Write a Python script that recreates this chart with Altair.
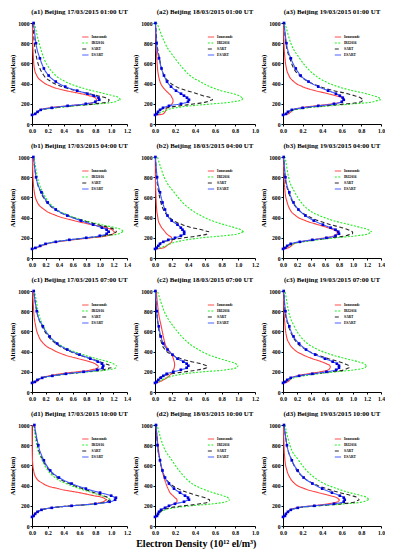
import altair as alt
import pandas as pd

ALT = [90, 100, 120, 140, 160, 180, 200, 220, 240, 260, 280, 300, 330, 370, 420, 480, 550, 650, 800, 1000]
SERIES = ["Ionosonde", "IRI2016", "SART", "ESART"]
COLORS = ["#ff4040", "#22ee22", "#262626", "#3a55ff"]
DASHES = [[1, 0], [2, 1.5], [4, 2.5], [1, 0]]
ALT_TICKS = [0, 200, 400, 600, 800, 1000]
TICKS_10 = [0.0, 0.2, 0.4, 0.6, 0.8, 1.0]
TICKS_12 = [0.0, 0.2, 0.4, 0.6, 0.8, 1.0, 1.2]
TICKS_14 = [0.0, 0.2, 0.4, 0.6, 0.8, 1.0, 1.2, 1.4]
COL_WIDTHS = [95, 100, 98]
PANEL_H = 101

TITLES = [
    "(a1) Beijing 17/03/2015  01:00 UT", "(a2) Beijing 18/03/2015  01:00 UT", "(a3) Beijing 19/03/2015  01:00 UT",
    "(b1) Beijing 17/03/2015  04:00 UT", "(b2) Beijing 18/03/2015  04:00 UT", "(b3) Beijing 19/03/2015  04:00 UT",
    "(c1) Beijing 17/03/2015  07:00 UT", "(c2) Beijing 18/03/2015  07:00 UT", "(c3) Beijing 19/03/2015  07:00 UT",
    "(d1) Beijing 17/03/2015  10:00 UT", "(d2) Beijing 18/03/2015  10:00 UT", "(d3) Beijing 19/03/2015  10:00 UT",
]
XTICKS = [TICKS_12, TICKS_10, TICKS_10,
          TICKS_14, TICKS_12, TICKS_14,
          TICKS_14, TICKS_12, TICKS_14,
          TICKS_12, TICKS_10, TICKS_10]

a1_iono = [0.0, 0.04, 0.07, 0.1, 0.22, 0.45, 0.68, 0.8, 0.82, 0.8, 0.72, 0.62, 0.43, 0.25, 0.13, 0.06, 0.03, 0.018, 0.01, 0.005]
a1_iri = [0.0, 0.03, 0.06, 0.12, 0.3, 0.56, 0.85, 1.05, 1.12, 1.1, 1.02, 0.92, 0.76, 0.58, 0.42, 0.3, 0.22, 0.15, 0.09, 0.03]
a1_sart = [0.0, 0.04, 0.07, 0.12, 0.28, 0.52, 0.8, 0.96, 0.98, 0.93, 0.83, 0.72, 0.56, 0.38, 0.24, 0.15, 0.1, 0.06, 0.03, 0.01]
a1_esart = [0.0, 0.04, 0.07, 0.11, 0.25, 0.45, 0.68, 0.8, 0.85, 0.84, 0.78, 0.7, 0.57, 0.42, 0.3, 0.21, 0.15, 0.1, 0.05, 0.02]

a2_iono = [0.02, 0.08, 0.1, 0.11, 0.12, 0.15, 0.17, 0.18, 0.18, 0.17, 0.16, 0.14, 0.11, 0.075, 0.05, 0.035, 0.025, 0.018, 0.01, 0.005]
a2_iri = [0.01, 0.03, 0.07, 0.12, 0.2, 0.36, 0.58, 0.78, 0.87, 0.88, 0.84, 0.78, 0.66, 0.55, 0.45, 0.35, 0.28, 0.2, 0.1, 0.02]
a2_sart = [0.0, 0.02, 0.03, 0.05, 0.12, 0.25, 0.4, 0.52, 0.58, 0.56, 0.48, 0.42, 0.32, 0.21, 0.14, 0.09, 0.065, 0.045, 0.02, 0.005]
a2_esart = [0.0, 0.02, 0.03, 0.05, 0.08, 0.14, 0.26, 0.33, 0.34, 0.32, 0.29, 0.26, 0.21, 0.16, 0.12, 0.09, 0.065, 0.04, 0.015, 0.005]

a3_iono = [0.0, 0.05, 0.08, 0.1, 0.18, 0.33, 0.5, 0.6, 0.62, 0.6, 0.54, 0.46, 0.33, 0.2, 0.11, 0.06, 0.035, 0.02, 0.01, 0.005]
a3_iri = [0.0, 0.03, 0.06, 0.12, 0.25, 0.48, 0.72, 0.92, 1.0, 0.98, 0.92, 0.85, 0.71, 0.56, 0.43, 0.33, 0.25, 0.17, 0.08, 0.02]
a3_sart = [0.0, 0.03, 0.05, 0.1, 0.22, 0.42, 0.65, 0.8, 0.82, 0.79, 0.73, 0.66, 0.52, 0.38, 0.26, 0.17, 0.11, 0.07, 0.03, 0.01]
a3_esart = [0.0, 0.03, 0.05, 0.09, 0.2, 0.36, 0.52, 0.6, 0.62, 0.61, 0.58, 0.54, 0.46, 0.36, 0.26, 0.18, 0.13, 0.08, 0.035, 0.01]

b1_iono = [0.01, 0.06, 0.14, 0.22, 0.38, 0.6, 0.87, 1.1, 1.2, 1.22, 1.18, 1.08, 0.88, 0.62, 0.36, 0.18, 0.08, 0.035, 0.015, 0.005]
b1_iri = [0.0, 0.05, 0.12, 0.2, 0.35, 0.56, 0.82, 1.08, 1.28, 1.35, 1.32, 1.22, 1.02, 0.78, 0.55, 0.37, 0.25, 0.16, 0.08, 0.03]
b1_sart = [0.0, 0.05, 0.12, 0.2, 0.35, 0.56, 0.82, 1.05, 1.2, 1.25, 1.22, 1.14, 0.97, 0.75, 0.52, 0.34, 0.22, 0.13, 0.06, 0.02]
b1_esart = [0.0, 0.05, 0.12, 0.2, 0.35, 0.55, 0.8, 1.0, 1.1, 1.13, 1.1, 1.03, 0.9, 0.72, 0.52, 0.35, 0.23, 0.14, 0.06, 0.02]

b2_iono = [0.01, 0.1, 0.14, 0.17, 0.2, 0.21, 0.2, 0.17, 0.14, 0.12, 0.1, 0.08, 0.06, 0.04, 0.03, 0.02, 0.015, 0.01, 0.005, 0.003]
b2_iri = [0.01, 0.06, 0.12, 0.18, 0.26, 0.38, 0.56, 0.82, 1.0, 1.07, 1.03, 0.96, 0.83, 0.68, 0.55, 0.43, 0.33, 0.23, 0.11, 0.03]
b2_sart = [0.0, 0.02, 0.03, 0.05, 0.1, 0.2, 0.35, 0.52, 0.63, 0.65, 0.56, 0.44, 0.33, 0.22, 0.15, 0.1, 0.07, 0.045, 0.02, 0.005]
b2_esart = [0.0, 0.02, 0.04, 0.06, 0.1, 0.16, 0.24, 0.31, 0.35, 0.35, 0.33, 0.31, 0.27, 0.2, 0.15, 0.12, 0.09, 0.06, 0.025, 0.005]

b3_iono = [0.01, 0.07, 0.12, 0.15, 0.25, 0.42, 0.6, 0.73, 0.78, 0.77, 0.72, 0.64, 0.5, 0.32, 0.18, 0.1, 0.06, 0.03, 0.015, 0.005]
b3_iri = [0.0, 0.04, 0.08, 0.15, 0.3, 0.5, 0.76, 1.05, 1.22, 1.27, 1.22, 1.12, 0.95, 0.72, 0.52, 0.36, 0.26, 0.17, 0.08, 0.03]
b3_sart = [0.0, 0.03, 0.06, 0.12, 0.26, 0.45, 0.68, 0.9, 1.0, 0.99, 0.93, 0.84, 0.68, 0.5, 0.34, 0.22, 0.14, 0.08, 0.03, 0.01]
b3_esart = [0.0, 0.03, 0.06, 0.11, 0.24, 0.42, 0.62, 0.75, 0.8, 0.79, 0.75, 0.68, 0.57, 0.44, 0.32, 0.22, 0.15, 0.09, 0.035, 0.01]

c1_iono = [0.01, 0.06, 0.1, 0.14, 0.25, 0.42, 0.66, 0.88, 0.97, 0.98, 0.93, 0.85, 0.68, 0.47, 0.3, 0.17, 0.1, 0.055, 0.025, 0.01]
c1_iri = [0.0, 0.04, 0.08, 0.16, 0.32, 0.55, 0.85, 1.12, 1.24, 1.25, 1.2, 1.12, 0.95, 0.75, 0.55, 0.38, 0.26, 0.17, 0.09, 0.04]
c1_sart = [0.0, 0.04, 0.08, 0.15, 0.3, 0.52, 0.8, 1.05, 1.17, 1.15, 1.08, 1.0, 0.86, 0.68, 0.5, 0.35, 0.24, 0.15, 0.07, 0.025]
c1_esart = [0.0, 0.04, 0.08, 0.15, 0.3, 0.5, 0.76, 0.96, 1.04, 1.05, 1.03, 0.97, 0.86, 0.7, 0.52, 0.37, 0.26, 0.16, 0.07, 0.025]

c2_iono = [0.01, 0.05, 0.1, 0.14, 0.17, 0.19, 0.21, 0.22, 0.23, 0.235, 0.235, 0.23, 0.22, 0.2, 0.16, 0.12, 0.1, 0.075, 0.04, 0.015]
c2_iri = [0.01, 0.04, 0.08, 0.14, 0.22, 0.35, 0.58, 0.85, 0.98, 1.0, 0.97, 0.9, 0.78, 0.64, 0.52, 0.41, 0.32, 0.22, 0.11, 0.03]
c2_sart = [0.0, 0.02, 0.03, 0.05, 0.1, 0.2, 0.36, 0.52, 0.62, 0.63, 0.55, 0.44, 0.31, 0.2, 0.12, 0.08, 0.06, 0.04, 0.02, 0.005]
c2_esart = [0.0, 0.02, 0.04, 0.07, 0.1, 0.14, 0.22, 0.31, 0.38, 0.4, 0.38, 0.34, 0.27, 0.21, 0.15, 0.1, 0.07, 0.045, 0.02, 0.005]

c3_iono = [0.01, 0.06, 0.1, 0.12, 0.2, 0.35, 0.53, 0.65, 0.68, 0.67, 0.62, 0.55, 0.42, 0.28, 0.16, 0.09, 0.05, 0.03, 0.015, 0.005]
c3_iri = [0.0, 0.04, 0.08, 0.15, 0.3, 0.5, 0.76, 1.02, 1.17, 1.2, 1.16, 1.07, 0.9, 0.69, 0.5, 0.35, 0.25, 0.16, 0.08, 0.03]
c3_sart = [0.0, 0.03, 0.06, 0.12, 0.25, 0.45, 0.68, 0.88, 0.95, 0.94, 0.88, 0.8, 0.65, 0.48, 0.33, 0.21, 0.14, 0.08, 0.03, 0.01]
c3_esart = [0.0, 0.03, 0.06, 0.11, 0.23, 0.42, 0.62, 0.76, 0.8, 0.8, 0.77, 0.71, 0.6, 0.46, 0.33, 0.23, 0.15, 0.09, 0.035, 0.01]

d1_iono = [0.0, 0.02, 0.03, 0.06, 0.12, 0.25, 0.5, 0.76, 0.9, 0.95, 0.9, 0.78, 0.6, 0.33, 0.14, 0.05, 0.02, 0.006, 0.003, 0.001]
d1_iri = [0.0, 0.02, 0.04, 0.07, 0.12, 0.25, 0.52, 0.82, 0.97, 1.0, 0.96, 0.88, 0.76, 0.6, 0.43, 0.29, 0.2, 0.13, 0.06, 0.02]
d1_sart = [0.0, 0.02, 0.04, 0.07, 0.12, 0.25, 0.5, 0.8, 0.95, 0.98, 0.96, 0.9, 0.79, 0.64, 0.47, 0.32, 0.22, 0.14, 0.07, 0.03]
d1_esart = [0.0, 0.02, 0.04, 0.07, 0.12, 0.25, 0.5, 0.8, 0.98, 1.05, 1.06, 1.0, 0.86, 0.68, 0.5, 0.34, 0.23, 0.15, 0.08, 0.03]

d2_iono = [0.01, 0.02, 0.03, 0.05, 0.07, 0.1, 0.14, 0.19, 0.22, 0.22, 0.2, 0.18, 0.15, 0.13, 0.11, 0.09, 0.07, 0.05, 0.03, 0.01]
d2_iri = [0.0, 0.02, 0.04, 0.06, 0.1, 0.2, 0.36, 0.58, 0.71, 0.75, 0.73, 0.68, 0.58, 0.47, 0.37, 0.3, 0.24, 0.17, 0.08, 0.02]
d2_sart = [0.0, 0.02, 0.03, 0.05, 0.08, 0.15, 0.28, 0.45, 0.54, 0.55, 0.5, 0.43, 0.33, 0.23, 0.15, 0.1, 0.07, 0.05, 0.025, 0.01]
d2_esart = [0.0, 0.02, 0.03, 0.04, 0.06, 0.1, 0.14, 0.2, 0.29, 0.34, 0.33, 0.3, 0.25, 0.19, 0.14, 0.1, 0.075, 0.05, 0.025, 0.01]

d3_iono = [0.0, 0.02, 0.03, 0.05, 0.07, 0.14, 0.3, 0.46, 0.56, 0.58, 0.55, 0.48, 0.36, 0.22, 0.12, 0.07, 0.04, 0.02, 0.01, 0.005]
d3_iri = [0.0, 0.02, 0.03, 0.05, 0.08, 0.16, 0.36, 0.64, 0.82, 0.88, 0.86, 0.8, 0.68, 0.55, 0.42, 0.32, 0.24, 0.16, 0.07, 0.02]
d3_sart = [0.0, 0.02, 0.03, 0.05, 0.08, 0.16, 0.35, 0.6, 0.74, 0.78, 0.76, 0.7, 0.58, 0.44, 0.31, 0.21, 0.14, 0.09, 0.04, 0.01]
d3_esart = [0.0, 0.02, 0.03, 0.05, 0.08, 0.15, 0.32, 0.52, 0.62, 0.63, 0.62, 0.58, 0.5, 0.4, 0.3, 0.21, 0.15, 0.09, 0.04, 0.01]

PANELS = [
    (a1_iono, a1_iri, a1_sart, a1_esart), (a2_iono, a2_iri, a2_sart, a2_esart), (a3_iono, a3_iri, a3_sart, a3_esart),
    (b1_iono, b1_iri, b1_sart, b1_esart), (b2_iono, b2_iri, b2_sart, b2_esart), (b3_iono, b3_iri, b3_sart, b3_esart),
    (c1_iono, c1_iri, c1_sart, c1_esart), (c2_iono, c2_iri, c2_sart, c2_esart), (c3_iono, c3_iri, c3_sart, c3_esart),
    (d1_iono, d1_iri, d1_sart, d1_esart), (d2_iono, d2_iri, d2_sart, d2_esart), (d3_iono, d3_iri, d3_sart, d3_esart),
]

FONT = "Liberation Serif"


def panel(i):
    vals = PANELS[i]
    ticks = XTICKS[i]
    w = COL_WIDTHS[i % 3]
    rows = []
    for s, v in zip(SERIES, vals):
        for a, x in zip(ALT, v):
            rows.append({"series": s, "alt": a, "ne": x})
    df = pd.DataFrame(rows)

    x_axis = alt.Axis(values=ticks, format=".1f", title=None, labelFlush=False,
                      labelOverlap=False, labelBound=False)
    y_axis = alt.Axis(values=ALT_TICKS, format="d", title="Altitude(km)",
                      minExtent=15, maxExtent=15, labelOverlap=False, labelFlush=False,
                      labelBound=False)
    x = alt.X("ne:Q", scale=alt.Scale(domain=[0, ticks[-1]], nice=False), axis=x_axis)
    y = alt.Y("alt:Q", scale=alt.Scale(domain=[0, 1000], nice=False), axis=y_axis)
    leg = alt.Legend(orient="none", legendX=w * 0.52, legendY=10, title=None,
                     symbolType="stroke", symbolSize=40, symbolStrokeWidth=1,
                     labelFontSize=3.6, labelFont=FONT, labelFontWeight="bold",
                     rowPadding=0, padding=0, labelOffset=2)
    lines = alt.Chart(df).mark_line(strokeWidth=1.1, interpolate="monotone", orient="horizontal").encode(
        x=x, y=y, order="alt:Q",
        color=alt.Color("series:N", scale=alt.Scale(domain=SERIES, range=COLORS), legend=leg),
        strokeDash=alt.StrokeDash("series:N", scale=alt.Scale(domain=SERIES, range=DASHES), legend=leg),
    )
    pts = alt.Chart(df[df["series"] == "ESART"]).mark_square(size=7, color="#0000dd", opacity=1).encode(
        x=x, y=y
    )
    return alt.layer(lines, pts).properties(
        width=w, height=PANEL_H,
        title=alt.TitleParams(TITLES[i], fontSize=6.9, font=FONT, fontWeight="bold", offset=4),
    )


charts = [panel(i) for i in range(12)]

chart = alt.concat(
    *charts, columns=3, spacing={"row": 33, "column": 28}, bounds="flush", align="each"
).resolve_scale(
    x="independent", y="independent", color="independent", strokeDash="independent"
).properties(
    title=alt.TitleParams("Electron Density (10¹² el/m³)", orient="bottom", anchor="middle",
                          fontSize=10, font=FONT, fontWeight="bold", offset=4),
    padding={"left": 0, "top": 0, "right": 0, "bottom": 0},
).configure_view(stroke=None).configure_axis(
    grid=False, domainColor="black", tickColor="black", tickSize=2, labelPadding=1,
    labelFont=FONT, labelFontWeight="bold", labelFontSize=5.7, labelColor="black",
    titleFont=FONT, titleFontWeight="bold", titleFontSize=7, titleColor="black", titlePadding=2,
    labelOverlap=False,
)

chart.save("out.html", embed_options={"renderer": "svg", "actions": False})
